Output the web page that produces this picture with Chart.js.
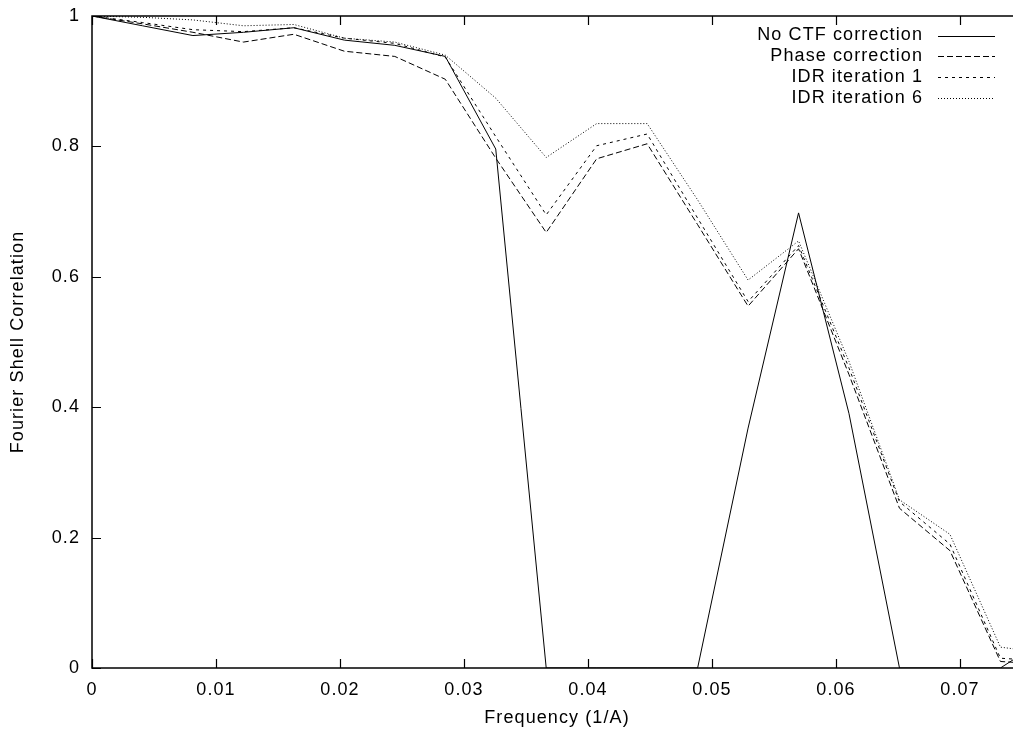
<!DOCTYPE html>
<html>
<head>
<meta charset="utf-8">
<script src="https://cdn.jsdelivr.net/npm/chart.js@4.4.1/dist/chart.umd.min.js"></script>
<style>
  html, body { margin: 0; padding: 0; background: #fff; overflow: hidden; }
  #wrap { width: 1013px; height: 736px; overflow: hidden; position: relative; }
  canvas { display: block; }
</style>
</head>
<body>
<div id="wrap"><canvas id="c" width="1030" height="736"></canvas></div>
<script>
// ---- data ----
const freq = [0, 0.00407, 0.00814, 0.01221, 0.01628, 0.02035, 0.02442, 0.02849, 0.03256, 0.03663,
              0.0407, 0.04477, 0.04884, 0.05291, 0.05698, 0.06105, 0.06512, 0.06919, 0.07326, 0.07733];
const noCtf   = [1.0, 0.985, 0.970, 0.975, 0.982, 0.963, 0.955, 0.938, 0.796, 0.0,
                 0.0, 0.0, 0.0, 0.368, 0.698, 0.390, 0.0, 0.0, 0.0, 0.05];
const phase   = [1.0, 0.988, 0.975, 0.960, 0.972, 0.946, 0.938, 0.903, 0.782, 0.668,
                 0.781, 0.804, 0.680, 0.555, 0.643, 0.450, 0.245, 0.180, 0.010, 0.005];
const idr1    = [1.0, 0.990, 0.979, 0.976, 0.982, 0.966, 0.958, 0.937, 0.815, 0.695,
                 0.801, 0.819, 0.690, 0.562, 0.648, 0.460, 0.255, 0.190, 0.015, 0.010];
const idr6    = [1.0, 0.998, 0.994, 0.985, 0.987, 0.966, 0.960, 0.940, 0.874, 0.783,
                 0.835, 0.835, 0.718, 0.595, 0.655, 0.470, 0.258, 0.205, 0.032, 0.022];
const seriesNames = ['No CTF correction', 'Phase correction', 'IDR iteration 1', 'IDR iteration 6'];
const xTicks = [0, 0.01, 0.02, 0.03, 0.04, 0.05, 0.06, 0.07];
const xTickLabels = ['0', '0.01', '0.02', '0.03', '0.04', '0.05', '0.06', '0.07'];
const yTicks = [0, 0.2, 0.4, 0.6, 0.8, 1];
const yTickLabels = ['0', '0.2', '0.4', '0.6', '0.8', '1'];
const xTitle = 'Frequency (1/A)';
const yTitle = 'Fourier Shell Correlation';

// ---- styles ----
const FONT = { family: "'Liberation Sans', Arial, Helvetica, sans-serif", size: 18 };
const SPACING = '1.1px';
const dashes = [[], [6, 3], [3, 4], [1, 2]];
const allSeries = [noCtf, phase, idr1, idr6];

const datasets = allSeries.map((vals, i) => ({
  label: seriesNames[i],
  data: freq.map((f, j) => ({ x: f, y: vals[j] })),
  borderColor: '#000',
  backgroundColor: '#000',
  borderWidth: 1,
  borderDash: dashes[i],
  pointRadius: 0,
  tension: 0,
  fill: false
}));

const spacingPlugin = {
  id: 'spacing',
  beforeLayout(chart) { try { chart.ctx.letterSpacing = SPACING; } catch (e) {} },
  beforeDraw(chart) { try { chart.ctx.letterSpacing = SPACING; } catch (e) {} }
};

const framePlugin = {
  id: 'frame',
  afterDraw(chart) {
    const ctx = chart.ctx;
    const a = chart.chartArea;
    const xs = chart.scales.x, ys = chart.scales.y;
    const tl = 9;
    ctx.save();
    ctx.strokeStyle = '#000';
    ctx.lineWidth = 1.5;
    ctx.setLineDash([]);
    ctx.strokeRect(a.left, a.top, a.right - a.left, a.bottom - a.top);
    ctx.lineWidth = 1.2;
    ctx.beginPath();
    xTicks.forEach(v => {
      const px = Math.round(xs.getPixelForValue(v)) + 0.5;
      ctx.moveTo(px, a.bottom); ctx.lineTo(px, a.bottom - tl);
      ctx.moveTo(px, a.top); ctx.lineTo(px, a.top + tl);
    });
    yTicks.forEach(v => {
      const py = Math.round(ys.getPixelForValue(v)) + 0.5;
      ctx.moveTo(a.left, py); ctx.lineTo(a.left + tl, py);
      ctx.moveTo(a.right, py); ctx.lineTo(a.right - tl, py);
    });
    ctx.stroke();

    // legend (gnuplot style: right-aligned text, line sample to its right)
    ctx.font = FONT.size + 'px ' + FONT.family;
    ctx.fillStyle = '#000';
    ctx.textAlign = 'right';
    ctx.textBaseline = 'middle';
    const textRight = a.right - 99;
    const sx0 = a.right - 84, sx1 = a.right - 27;
    chart.data.datasets.forEach((ds, i) => {
      const y = a.top + 19.5 + i * 20.7;
      ctx.fillText(ds.label, textRight, y);
      ctx.beginPath();
      ctx.lineWidth = 1;
      ctx.setLineDash(ds.borderDash || []);
      ctx.moveTo(sx0, Math.round(y) + 0.5);
      ctx.lineTo(sx1, Math.round(y) + 0.5);
      ctx.stroke();
    });
    ctx.restore();
  }
};

new Chart(document.getElementById('c'), {
  type: 'line',
  data: { datasets },
  options: {
    responsive: false,
    animation: false,
    devicePixelRatio: 1,
    layout: { padding: { top: 16, right: 8, left: 0, bottom: 0 } },
    plugins: { legend: { display: false }, tooltip: { enabled: false } },
    scales: {
      x: {
        type: 'linear', min: 0, max: 0.075,
        grid: { display: false, drawTicks: false },
        border: { display: false },
        afterBuildTicks: s => { s.ticks = xTicks.map(v => ({ value: v })); },
        afterFit: s => { s.height = 68; s.paddingLeft = 0; s.paddingRight = 0; },
        ticks: {
          color: '#000', font: FONT, padding: 11, maxRotation: 0, autoSkip: false,
          callback: (v) => { const k = xTicks.indexOf(v); return k >= 0 ? xTickLabels[k] : ''; }
        },
        title: { display: true, text: xTitle, color: '#000', font: FONT, padding: { top: 0, bottom: 7 } }
      },
      y: {
        type: 'linear', min: 0, max: 1,
        grid: { display: false, drawTicks: false },
        border: { display: false },
        afterBuildTicks: s => { s.ticks = yTicks.map(v => ({ value: v })); },
        afterFit: s => { s.width = 92; s.paddingTop = 0; s.paddingBottom = 0; },
        ticks: {
          color: '#000', font: FONT, padding: 12, autoSkip: false,
          callback: (v) => { const k = yTicks.indexOf(v); return k >= 0 ? yTickLabels[k] : ''; }
        },
        title: { display: true, text: yTitle, color: '#000', font: FONT, padding: { top: 7, bottom: 0 } }
      }
    }
  },
  plugins: [spacingPlugin, framePlugin]
});
</script>
</body>
</html>
